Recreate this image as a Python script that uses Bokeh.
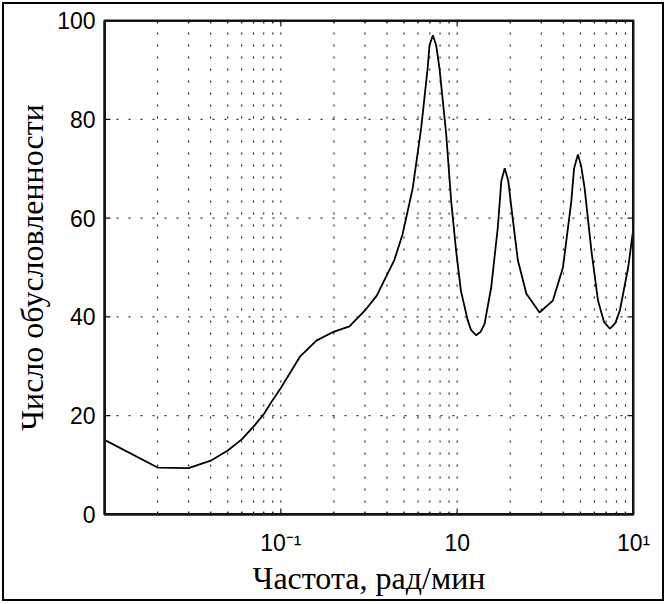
from bokeh.plotting import figure
from bokeh.models import FixedTicker, Range1d, Span
from bokeh.embed import file_html
from bokeh.resources import INLINE

# Frequency, rad/min
freq = [0.01, 0.02, 0.03, 0.04, 0.05, 0.06, 0.07, 0.08, 0.09, 0.1,
        0.128, 0.159, 0.197, 0.245, 0.3, 0.35, 0.4, 0.44, 0.49, 0.56,
        0.625, 0.68, 0.697, 0.728, 0.76, 0.794, 0.867, 0.925, 0.986, 1.05,
        1.148, 1.2, 1.28, 1.36, 1.43, 1.56, 1.70, 1.78, 1.86, 1.95,
        2.03, 2.21, 2.47, 2.93, 3.49, 3.98, 4.44, 4.6, 4.84, 5.05,
        5.28, 5.77, 6.29, 6.8, 7.35, 7.9, 8.37, 9.33, 10.0]
# Condition number
cond = [15.1, 9.5, 9.4, 10.9, 12.95, 15.2, 17.8, 20.3, 23.2, 25.6,
        31.9, 35.2, 36.9, 38.1, 41.3, 44.3, 48.5, 51.5, 56.7, 66.1,
        78.2, 90.3, 95.0, 97.0, 95.0, 90.3, 76.9, 63.4, 53.4, 45.3,
        39.3, 37.3, 36.3, 37.0, 38.6, 46.0, 58.1, 67.5, 70.1, 67.5,
        62.1, 51.4, 44.7, 40.9, 43.3, 50.0, 63.4, 70.0, 72.9, 70.5,
        66.1, 53.4, 43.3, 39.0, 37.6, 38.8, 41.3, 50.0, 58.1]

x_major = [0.01, 0.1, 1, 10]
x_labels = ["", "10\u207b\u00b9", "10", "10\u00b9"]
x_minor = [m * d for d in (0.01, 0.1, 1) for m in range(2, 10)]
y_major = [0, 20, 40, 60, 80, 100]

x_title = "Частота, рад/мин"
y_title = "Число обусловленности"

X0, X1 = 0.01, 10
Y0, Y1 = 0, 100
FRAME = "#141414"

W, H = 666, 603
p = figure(width=W, height=H, x_axis_type="log",
           x_range=Range1d(X0, X1), y_range=Range1d(Y0, Y1),
           output_backend="svg", toolbar_location=None,
           min_border_left=104, min_border_right=W - 633,
           min_border_top=20, min_border_bottom=H - 514)
p.styles = {"outline": "2.5px solid black", "outline-offset": "-4px"}

p.xaxis.ticker = FixedTicker(ticks=x_major, minor_ticks=x_minor)
p.yaxis.ticker = FixedTicker(ticks=y_major, minor_ticks=[])
p.xaxis.major_label_overrides = {t: l for t, l in zip(x_major, x_labels)}

for ax in (p.xaxis[0], p.yaxis[0]):
    ax.major_tick_in = 0
    ax.major_tick_out = 0
    ax.minor_tick_in = 0
    ax.minor_tick_out = 0
    ax.axis_line_color = FRAME
    ax.axis_line_width = 2
    ax.major_label_text_font = "Liberation Sans"
    ax.major_label_text_font_size = "23px"
    ax.major_label_text_color = "black"
    ax.axis_label_text_font = "Liberation Serif"
    ax.axis_label_text_font_size = "32px"
    ax.axis_label_text_font_style = "normal"
    ax.axis_label_text_color = "black"

p.xaxis.axis_label = x_title
p.yaxis.axis_label = y_title
p.xaxis.major_label_standoff = 15
p.yaxis.major_label_standoff = 9
p.xaxis.axis_label_standoff = 1
p.yaxis.axis_label_standoff = 4

# Matlab-style dotted grid drawn as spans at the tick positions
p.xgrid.grid_line_color = None
p.ygrid.grid_line_color = None
for xv in x_major[1:-1] + x_minor:
    p.add_layout(Span(location=xv, dimension="height", line_color="black",
                      line_width=1, line_dash="2 10"))
for yv in y_major[1:-1]:
    p.add_layout(Span(location=yv, dimension="width", line_color="black",
                      line_width=1, line_dash="2 10"))

# box frame
for xv in (X0, X1):
    p.add_layout(Span(location=xv, dimension="height", line_color=FRAME, line_width=3))
for yv in (Y0, Y1):
    p.add_layout(Span(location=yv, dimension="width", line_color=FRAME, line_width=3))

# inward tick marks on all four sides (lengths: major 6 px, minor 3 px)
maj_len_y, min_len_y = 1.2, 0.6          # in y units (about 4.94 px per unit)
maj_fac_x = 10 ** (6 / 176.3)            # in log-x decades
xt_maj = x_major[1:-1]
p.segment(x0=xt_maj + xt_maj, y0=[Y0] * len(xt_maj) + [Y1] * len(xt_maj),
          x1=xt_maj + xt_maj,
          y1=[Y0 + maj_len_y] * len(xt_maj) + [Y1 - maj_len_y] * len(xt_maj),
          line_color=FRAME, line_width=1.2)
p.segment(x0=x_minor + x_minor, y0=[Y0] * len(x_minor) + [Y1] * len(x_minor),
          x1=x_minor + x_minor,
          y1=[Y0 + min_len_y] * len(x_minor) + [Y1 - min_len_y] * len(x_minor),
          line_color=FRAME, line_width=1.2)
yt_in = y_major[1:-1]
p.segment(x0=[X0] * len(yt_in) + [X1] * len(yt_in), y0=yt_in + yt_in,
          x1=[X0 * maj_fac_x] * len(yt_in) + [X1 / maj_fac_x] * len(yt_in),
          y1=yt_in + yt_in, line_color=FRAME, line_width=1.2)

p.outline_line_color = FRAME
p.outline_line_width = 2
p.background_fill_color = None
p.border_fill_color = None

p.line(freq, cond, line_color="black", line_width=1.8)

open("out.html", "w").write(file_html(p, INLINE))
